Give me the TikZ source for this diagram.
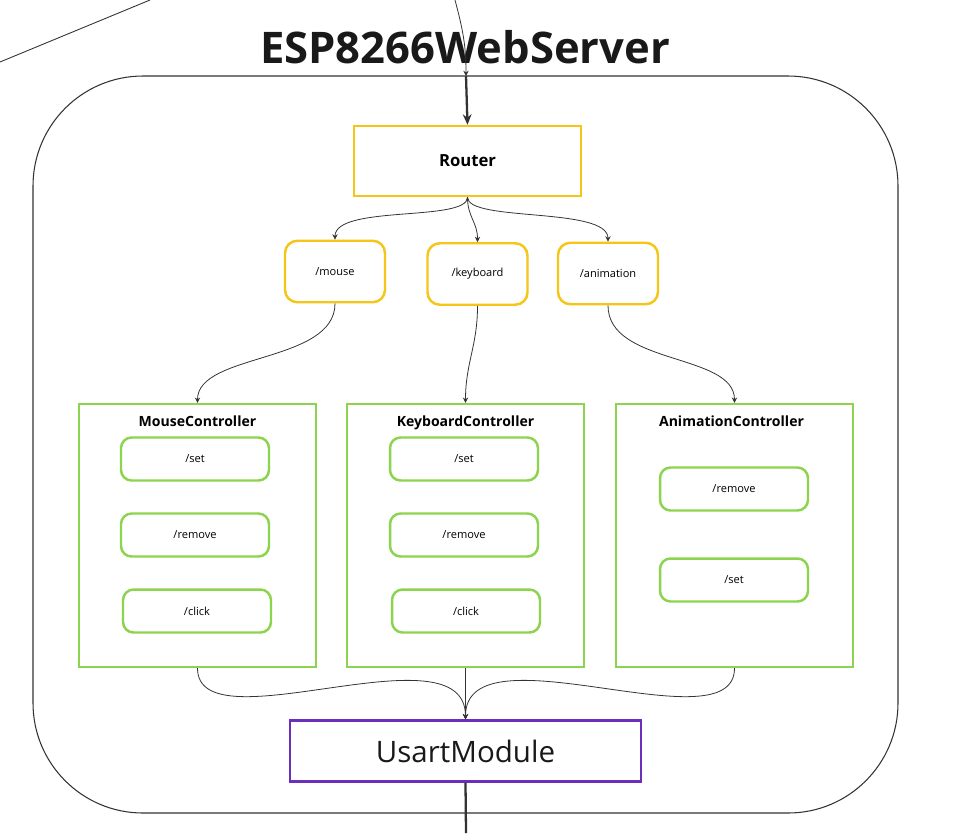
\documentclass[tikz,border=0pt]{standalone}
\usepackage{fontspec}
\setmainfont{Open Sans}
\usepackage{tikz}
\usetikzlibrary{arrows.meta}
\definecolor{routeyellow}{HTML}{F5C518}
\definecolor{ctrlgreen}{HTML}{8CD44E}
\definecolor{usartpurple}{HTML}{6B2FBB}
\definecolor{linegray}{HTML}{333333}

\begin{document}
\begin{tikzpicture}[x=0.02cm,y=-0.02cm,
  routebox/.style={draw=routeyellow,line width=1.4pt,fill=white,inner sep=0pt},
  pathbox/.style={draw=routeyellow,line width=1.4pt,rounded corners=7pt,inner sep=0pt,
    minimum width=2cm,minimum height=1.23cm,font=\fontsize{6.3}{7}\selectfont},
  ctrlbox/.style={draw=ctrlgreen,line width=1.4pt,inner sep=0pt,minimum width=4.74cm,minimum height=5.26cm},
  itembox/.style={draw=ctrlgreen,line width=1.4pt,rounded corners=6pt,inner sep=0pt,
    minimum width=2.96cm,minimum height=0.86cm,font=\fontsize{6.3}{7}\selectfont},
  ctrltitle/.style={anchor=base,font=\bfseries\fontsize{8}{9}\selectfont},
  link/.style={linegray,line width=0.45pt,-{Stealth[length=3pt,width=3pt]}},
  mainlink/.style={linegray,line width=1.3pt,-{Stealth[length=6pt,width=5pt]}}]
\useasboundingbox (0,0) rectangle (966,833);
\fill[white] (0,0) rectangle (966,833);

% outer server frame
\draw[line width=0.6pt,linegray,rounded corners=2.2cm] (33,76) rectangle (898,813);
\draw (465,47) node[font=\bfseries\fontsize{24.8}{28}\selectfont,text=black!90] (Title) {ESP8266WebServer};

% stray line top left
\coordinate (StrayA) at (0,62);
\coordinate (StrayB) at (150,0);
\draw[line width=0.5pt,linegray] (StrayA) -- (StrayB);

% router and paths
\draw (467.5,161) node[routebox,minimum width=4.54cm,minimum height=1.4cm,font=\bfseries\fontsize{9.5}{11}\selectfont] (Router) {Router};
\draw (335,271.5) node[pathbox] (Mouse) {/mouse};
\draw (477.5,274) node[pathbox] (Keyboard) {/keyboard};
\draw (608,273.5) node[pathbox] (Animation) {/animation};

% controllers
\draw (197.5,535.5) node[ctrlbox] (MouseCtrl) {};
\draw (197.5,426) node[ctrltitle] (MouseCtrlTitle) {MouseController};
	\draw (195,459) node[itembox] (MouseSet) {/set};
	\draw (195,535) node[itembox] (MouseRemove) {/remove};
	\draw (197,611) node[itembox] (MouseClick) {/click};
\draw (465.5,535.5) node[ctrlbox] (KeyboardCtrl) {};
\draw (465.5,426) node[ctrltitle] (KeyboardCtrlTitle) {KeyboardController};
	\draw (464,459) node[itembox] (KeyboardSet) {/set};
	\draw (464,535) node[itembox] (KeyboardRemove) {/remove};
	\draw (466,611) node[itembox] (KeyboardClick) {/click};
\draw (734.5,535.5) node[ctrlbox] (AnimationCtrl) {};
\draw (731.5,426) node[ctrltitle] (AnimationCtrlTitle) {AnimationController};
	\draw (734,489) node[itembox] (AnimationRemove) {/remove};
	\draw (734,580) node[itembox] (AnimationSet) {/set};

% usart
\draw (465.5,751) node[draw=usartpurple,line width=1.4pt,inner sep=0pt,minimum width=7.02cm,minimum height=1.22cm,
  font=\fontsize{16.8}{19}\selectfont,text=black!90] (Usart) {UsartModule};

% incoming and outgoing
\coordinate (InTop) at (455,0);
\coordinate (FrameTop) at (466,76);
\coordinate (OutBottom) at (466,833);
\draw[link] (InTop) .. controls +(8,30) and +(0,-30) .. (FrameTop);
\draw[mainlink] (FrameTop) -- (Router.north);
\draw[linegray,line width=1.3pt] (Usart.south) -- (OutBottom);

% router to paths
\draw[link] (Router.south) .. controls +(0,25) and +(0,-35) .. (Mouse.north);
\draw[link] (Router.south) .. controls +(0,20) and +(0,-20) .. (Keyboard.north);
\draw[link] (Router.south) .. controls +(0,25) and +(0,-35) .. (Animation.north);

% paths to controllers
\draw[link] (Mouse.south) .. controls +(0,60) and +(0,-50) .. (MouseCtrl.north);
\draw[link] (Keyboard.south) .. controls +(0,40) and +(0,-40) .. (KeyboardCtrl.north);
\draw[link] (Animation.south) .. controls +(0,60) and +(0,-50) .. (AnimationCtrl.north);

% controllers to usart
\draw[link] (MouseCtrl.south) .. controls +(0,80) and +(0,-95) .. (Usart.north);
\draw[link] (KeyboardCtrl.south) -- (Usart.north);
\draw[link] (AnimationCtrl.south) .. controls +(0,80) and +(0,-95) .. (Usart.north);
\end{tikzpicture}
\end{document}
